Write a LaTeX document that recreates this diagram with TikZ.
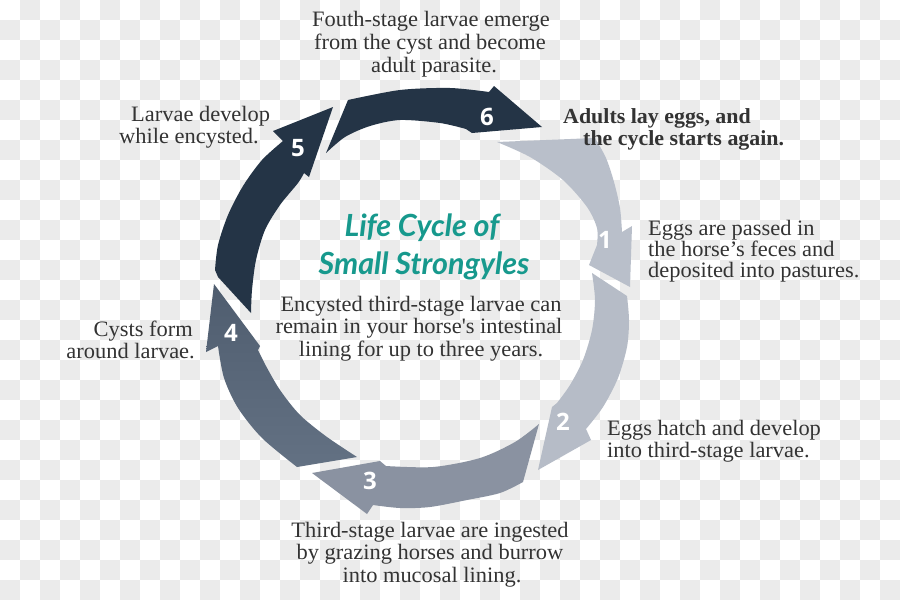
\documentclass[tikz,border=0pt]{standalone}
\usepackage{fontspec}
\setmainfont{Liberation Serif}[FakeStretch=1.02]
\newfontfamily\numfont{Open Sans}
\newfontfamily\titlefont{Lato}
\definecolor{chk}{HTML}{EBEBEB}
\definecolor{txtc}{HTML}{333333}
\definecolor{teal1}{HTML}{17998D}
\definecolor{arA}{HTML}{243446}
\definecolor{arBt}{HTML}{4F5D6F}
\definecolor{arBb}{HTML}{637183}
\definecolor{arC}{HTML}{8A92A1}
\definecolor{arD}{HTML}{B6BCC7}
\definecolor{arE}{HTML}{B9BFCA}
\begin{document}
\begin{tikzpicture}[x=1pt,y=-1pt,
  txt/.style={text=txtc,font=\fontsize{22}{24}\selectfont,inner sep=0pt},
  bold/.style={txt,font=\bfseries\fontsize{21.5}{24}\selectfont},
  num/.style={text=white,font=\numfont\bfseries\fontsize{24}{24}\selectfont,inner sep=0pt},
  ttl/.style={text=teal1,font=\titlefont\bfseries\itshape\fontsize{30.5}{36}\selectfont,inner sep=0pt}]
\useasboundingbox (0,0) rectangle (900,600);
\fill[white] (0,0) rectangle (900,600);
\foreach \i in {0,...,44}{\foreach \j in {0,...,29}{%
  \pgfmathtruncatemacro\kk{mod(\i+\j,2)}%
  \ifnum\kk=1 \fill[chk] (\i*20,\j*20) rectangle ++(20,20);\fi}}
% arrow 6
\fill[arA] (348,100) -- (326,153) -- plot[smooth] coordinates {(326,153) (345,137) (370,126) (400,120) (440,123) (466,129)} -- (472,133) -- (542,127) -- (494,86) -- (489,92) -- plot[smooth] coordinates {(489,92) (450,88) (400,90) (348,100)} -- cycle;
% arrow 5
\fill[arA] (333,107) -- (273,131) -- (283,141) -- plot[smooth] coordinates {(283,141) (262,160) (243,186) (228,215) (218,245) (215,270)} -- (218,277) -- (251,313) -- plot[smooth] coordinates {(251,313) (252,290) (256,260) (265,230) (280,205) (298,183) (304,173)} -- (309,177) -- cycle;
% arrow 4
\path[top color=arBt,bottom color=arBb] (214,284) -- (206,352) -- (218,346) -- plot[smooth] coordinates {(218,346) (224,378) (238,408) (262,438) (297,467)} -- (357,457) -- plot[smooth] coordinates {(357,457) (327,437) (300,415) (280,390) (266,366) (258,350)} -- (260,346) -- cycle;
% arrow 3
\fill[arC] (312,473) -- (380,461) -- (386,466) -- plot[smooth] coordinates {(386,466) (433,467) (480,458) (515,442) (539,424)} -- (523,482) -- plot[smooth] coordinates {(523,482) (500,493) (467,500) (430,507) (400,508) (373,505)} -- (367,514) -- cycle;
% arrow 2
\fill[arD] (592,273) -- (627,296) -- plot[smooth] coordinates {(627,296) (629,320) (627,347) (618,378) (603,407) (586,429)} -- (591,440) -- (538,470) -- (552,407) -- (557,403) -- plot[smooth] coordinates {(557,403) (570,385) (583,360) (592,330) (595,300) (592,273)} -- cycle;
% arrow 1
\fill[arE] (497,142) -- (595,138) -- plot[smooth] coordinates {(595,138) (606,158) (614,182) (620,208) (622,232)} -- (632,226) -- (630,287) -- (589,265) -- (597,245) -- plot[smooth] coordinates {(597,245) (597,228) (587,207) (563,180) (530,157) (497,142)} -- cycle;
% numbers
\node[num] (n1) at (605,240) {1};
\node[num] (n2) at (563,422) {2};
\node[num] (n3) at (370,481) {3};
\node[num] (n4) at (231,333) {4};
\node[num] (n5) at (298,148) {5};
\node[num] (n6) at (487,117) {6};
% title
\node[ttl,anchor=base] (ti1) at (422,236) {Life Cycle of};
\node[ttl,anchor=base] (ti2) at (424,274) {Small Strongyles};
% centre text
\node[txt,anchor=base] (c1) at (421,311) {Encysted third-stage larvae can};
\node[txt,anchor=base] (c2) at (419,333) {remain in your horse\textquotesingle s intestinal};
\node[txt,anchor=base] (c3) at (421,356) {lining for up to three years.};
% top
\node[txt,anchor=base] (s6a) at (431,26) {Fouth-stage larvae emerge};
\node[txt,anchor=base] (s6b) at (430,49) {from the cyst and become};
\node[txt,anchor=base] (s6c) at (434,72) {adult parasite.};
% adults
\node[bold,anchor=base west] (s0a) at (563,123) {Adults lay eggs, and};
\node[bold,anchor=base west] (s0b) at (583,145) {the cycle starts again.};
% larvae develop
\node[txt,anchor=base west] (s5a) at (131,121) {Larvae develop};
\node[txt,anchor=base west] (s5b) at (119,143) {while encysted.};
% eggs passed
\node[txt,anchor=base west] (s1a) at (648,235) {Eggs are passed in};
\node[txt,anchor=base west] (s1b) at (648,256) {the horse’s feces and};
\node[txt,anchor=base west] (s1c) at (648,277) {deposited into pastures.};
% eggs hatch
\node[txt,anchor=base west] (s2a) at (607,435) {Eggs hatch and develop};
\node[txt,anchor=base west] (s2b) at (607,457) {into third-stage larvae.};
% third stage
\node[txt,anchor=base] (s3a) at (430,537) {Third-stage larvae are ingested};
\node[txt,anchor=base] (s3b) at (430,559) {by grazing horses and burrow};
\node[txt,anchor=base] (s3c) at (432,582) {into mucosal lining.};
% cysts
\node[txt,anchor=base east] (s4a) at (193,336) {Cysts form};
\node[txt,anchor=base east] (s4b) at (195,358) {around larvae.};
\end{tikzpicture}
\end{document}
